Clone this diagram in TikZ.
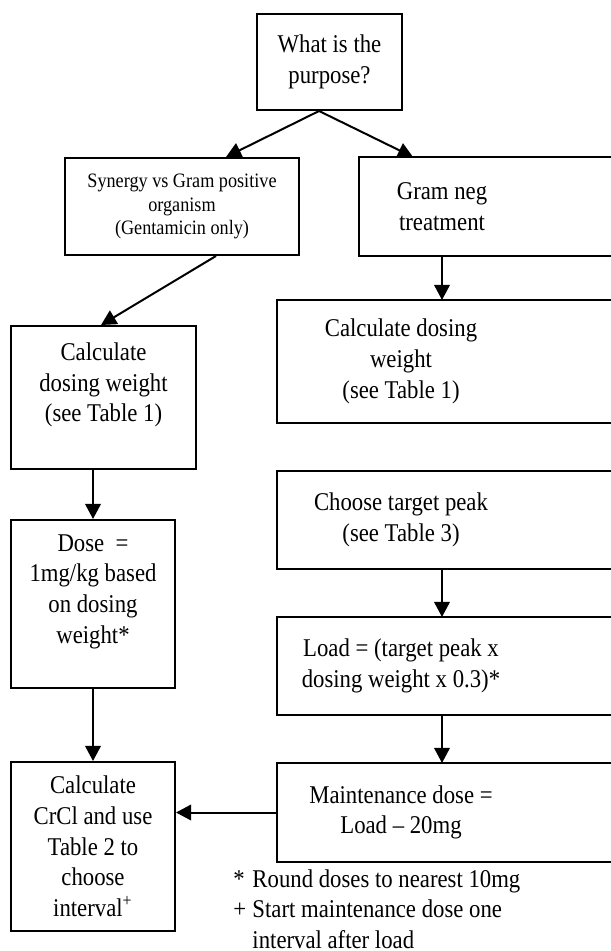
\documentclass[tikz,border=0pt]{standalone}
\usepackage{fontspec}
\setmainfont{Liberation Serif}[FakeStretch=0.89]
\usetikzlibrary{arrows.meta,positioning}

\begin{document}
\begin{tikzpicture}[
  x=0.45pt, y=-0.45pt,
  node distance=21.6pt,
  box/.style={draw, line width=0.9pt, align=center, inner sep=0pt, font=\fontsize{11.5pt}{13.8pt}\selectfont},
  cell/.style={box, draw=none, minimum width=110.7pt},
  frame/.style={line width=0.9pt},
  arrow/.style={-{Triangle[length=6.8pt,width=7pt]}, line width=0.9pt}
]
\useasboundingbox (0,0) rectangle (611,951);
\clip (0,0) rectangle (611,951);

\node[box, anchor=north west, minimum width=65.25pt, minimum height=43.2pt] (purpose) at (256,13) {What is the\\purpose?};
\node[box, anchor=north west, minimum width=105.3pt, minimum height=43.65pt, font=\fontsize{9.2pt}{10.6pt}\selectfont] (synergy) at (64,157) {Synergy vs Gram positive\\organism\\(Gentamicin only)};
\node[cell, anchor=north west, minimum width=73.8pt, minimum height=43.65pt] (gram) at (359,157) {Gram neg\\treatment};

\node[box, anchor=north west, minimum width=83.25pt, minimum height=64.35pt] (calcl) at (10,325) {Calculate\\dosing weight\\(see Table 1)\\\mbox{}};
\node[box, below=22.05pt of calcl.south west, anchor=north west, minimum width=73.8pt, minimum height=75.6pt] (dose) {Dose \ =\\1mg/kg based\\on dosing\\weight*\\\mbox{}};
\node[box, below=32.4pt of dose.south west, anchor=north west, minimum width=73.8pt, minimum height=76.05pt] (crcl) {Calculate\\CrCl and use\\Table 2 to\\choose\\interval\textsuperscript{+}};

\node[cell, anchor=north west, minimum height=54.45pt] (calcr) at (277,300) {Calculate dosing\\weight\\(see Table 1)};
\node[cell, below=of calcr.south west, anchor=north west, minimum height=43.2pt] (peak) {Choose target peak\\(see Table 3)};
\node[cell, below=of peak.south west, anchor=north west, minimum height=43.2pt] (load) {Load = (target peak x\\dosing weight x 0.3)*};
\node[cell, below=of load.south west, anchor=north west, minimum height=43.65pt] (maint) {Maintenance dose =\\Load -- 20mg};

\foreach \n in {gram,calcr,peak,load,maint}
  \draw[frame] ([xshift=3cm]\n.north east) -| (\n.south west) -- ([xshift=3cm]\n.south east);

\node[anchor=base west, inner sep=0pt, font=\fontsize{11.5pt}{13.8pt}\selectfont] (notes) at (233,887) {\begin{tabular}[t]{@{}l@{\hspace{2.8pt}}l@{}}
*&Round doses to nearest 10mg\\
+&Start maintenance dose one\\
&interval after load
\end{tabular}};

\draw[arrow] ([xshift=-4.7pt]purpose.south) -- ([xshift=19.8pt]synergy.north);
\draw[arrow] ([xshift=-4.7pt]purpose.south) -- ([xshift=-13.05pt]gram.north);
\draw[arrow] ([xshift=15.3pt]synergy.south) -- ([xshift=-1.1pt]calcl.north);
\draw[arrow] (gram.south) -- (gram.south |- calcr.north);
\draw[arrow] (gram.south |- peak.south) -- (gram.south |- load.north);
\draw[arrow] (gram.south |- load.south) -- (gram.south |- maint.north);
\draw[arrow] (dose.north |- calcl.south) -- (dose.north);
\draw[arrow] (dose.south) -- (crcl.north);
\draw[arrow] (maint.west) -- (maint.west -| crcl.east);
\end{tikzpicture}
\end{document}
